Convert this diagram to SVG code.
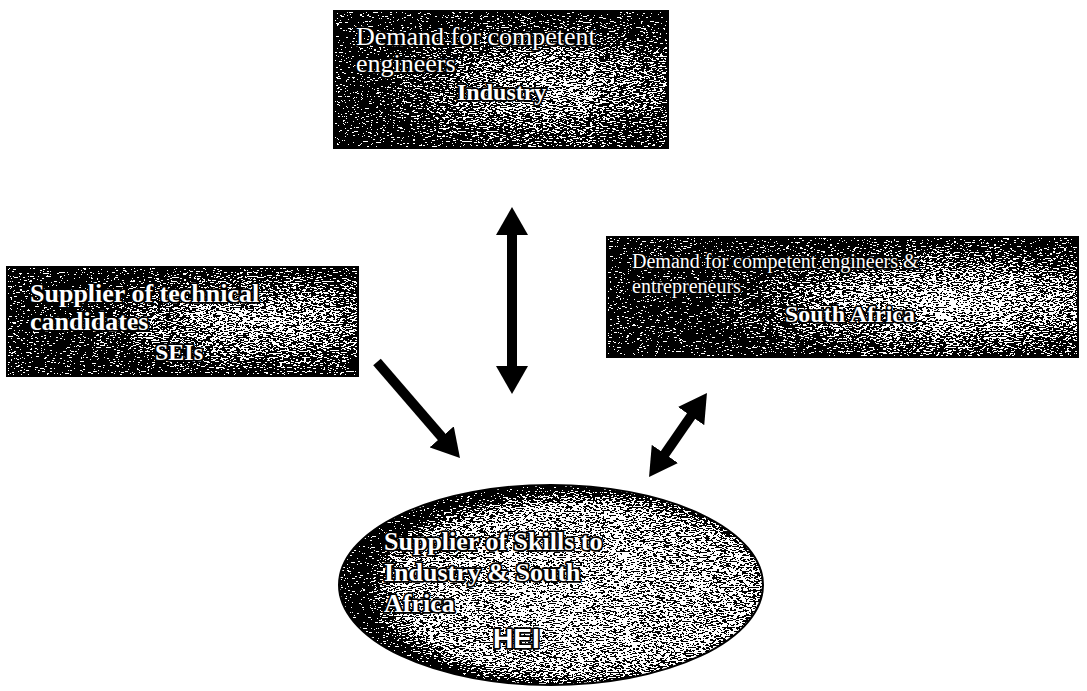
<svg xmlns="http://www.w3.org/2000/svg" width="1087" height="691" viewBox="0 0 1087 691">
<defs>
<style>
.t{font-family:"Liberation Serif","Times New Roman",serif;fill:#fff;stroke:#000;stroke-width:3.5;paint-order:stroke;stroke-linejoin:round}
.b{font-weight:bold}
.hei{font-family:"Liberation Sans",Arial,sans-serif;font-weight:bold;fill:#fff;stroke:#000;stroke-width:3.5;paint-order:stroke;stroke-linejoin:round}
.conn{stroke:#000;stroke-width:10;fill:none;stroke-linecap:butt}
</style>
<filter id="dither" x="0" y="0" width="1" height="1" color-interpolation-filters="sRGB">
<feTurbulence type="fractalNoise" baseFrequency="0.3 1.2" numOctaves="2" seed="7" result="t"/>
<feColorMatrix in="t" type="matrix" values="-3 0 0 0 2  -3 0 0 0 2  -3 0 0 0 2  0 0 0 0 1" result="m"/>
<feComposite in="SourceGraphic" in2="m" operator="arithmetic" k1="0" k2="1" k3="1" k4="-0.5" result="d"/>
<feComponentTransfer in="d" result="bw">
<feFuncR type="discrete" tableValues="0 1"/>
<feFuncG type="discrete" tableValues="0 1"/>
<feFuncB type="discrete" tableValues="0 1"/>
<feFuncA type="linear" slope="0" intercept="1"/>
</feComponentTransfer>
<feComposite in="bw" in2="SourceGraphic" operator="in"/>
</filter>
<radialGradient id="gTop" cx="0.64" cy="0.55" r="0.55">
<stop offset="0" stop-color="#a8a8a8"/>
<stop offset="0.5" stop-color="#686868"/>
<stop offset="1" stop-color="#080808"/>
</radialGradient>
<radialGradient id="gLeft" cx="0.72" cy="0.5" r="0.55">
<stop offset="0" stop-color="#b0b0b0"/>
<stop offset="0.5" stop-color="#707070"/>
<stop offset="1" stop-color="#080808"/>
</radialGradient>
<radialGradient id="gRight" cx="0.74" cy="0.55" r="0.55">
<stop offset="0" stop-color="#b8b8b8"/>
<stop offset="0.5" stop-color="#7a7a7a"/>
<stop offset="1" stop-color="#080808"/>
</radialGradient>
<radialGradient id="gEll" cx="0.56" cy="0.52" r="0.5">
<stop offset="0" stop-color="#b0b0b0"/>
<stop offset="0.84" stop-color="#9a9a9a"/>
<stop offset="0.96" stop-color="#3a3a3a"/>
<stop offset="1" stop-color="#000"/>
</radialGradient>
<marker id="ah" markerUnits="userSpaceOnUse" markerWidth="30" markerHeight="32" refX="8" refY="16" orient="auto-start-reverse" viewBox="0 0 30 32">
<path d="M0,0 L28,16 L0,32 z" fill="#000"/>
</marker>
</defs>
<rect width="1087" height="691" fill="#fff"/>

<g id="connectors">
<line class="conn" x1="512" y1="227" x2="512" y2="374" marker-start="url(#ah)" marker-end="url(#ah)"/>
<line class="conn" x1="377" y1="362" x2="446.9" y2="442.9" marker-end="url(#ah)"/>
<line class="conn" x1="660.4" y1="460.5" x2="695.6" y2="409.5" marker-start="url(#ah)" marker-end="url(#ah)"/>
</g>

<g id="node-industry">
<rect x="334" y="11" width="334" height="137" fill="url(#gTop)" filter="url(#dither)"/>
<rect x="334" y="11" width="334" height="137" fill="none" stroke="#000" stroke-width="2"/>
<text class="t" x="356" y="45" font-size="26">Demand for competent</text>
<text class="t" x="356" y="72" font-size="26">engineers</text>
<text class="t b" x="457" y="100" font-size="24">Industry</text>
</g>

<g id="node-seis">
<rect x="7" y="267" width="351" height="109" fill="url(#gLeft)" filter="url(#dither)"/>
<rect x="7" y="267" width="351" height="109" fill="none" stroke="#000" stroke-width="2"/>
<text class="t b" x="30" y="302" font-size="26">Supplier of technical</text>
<text class="t b" x="30" y="330" font-size="26">candidates</text>
<text class="t b" x="155" y="360" font-size="24">SEIs</text>
</g>

<g id="node-south-africa">
<rect x="607" y="237" width="471" height="120" fill="url(#gRight)" filter="url(#dither)"/>
<rect x="607" y="237" width="471" height="120" fill="none" stroke="#000" stroke-width="2"/>
<text class="t" x="632" y="268" font-size="20">Demand for competent engineers &amp;</text>
<text class="t" x="632" y="293" font-size="20">entrepreneurs</text>
<text class="t b" x="785" y="322" font-size="24">South Africa</text>
</g>

<g id="node-hei">
<ellipse cx="551" cy="585" rx="212" ry="100" fill="url(#gEll)" filter="url(#dither)"/>
<ellipse cx="551" cy="585" rx="212" ry="100" fill="none" stroke="#000" stroke-width="2"/>
<text class="t b" x="384" y="550" font-size="26">Supplier of Skills to</text>
<text class="t b" x="384" y="581" font-size="26">Industry &amp; South</text>
<text class="t b" x="384" y="612" font-size="26">Africa</text>
<text class="hei" x="493" y="648" font-size="28">HEI</text>
</g>
</svg>
